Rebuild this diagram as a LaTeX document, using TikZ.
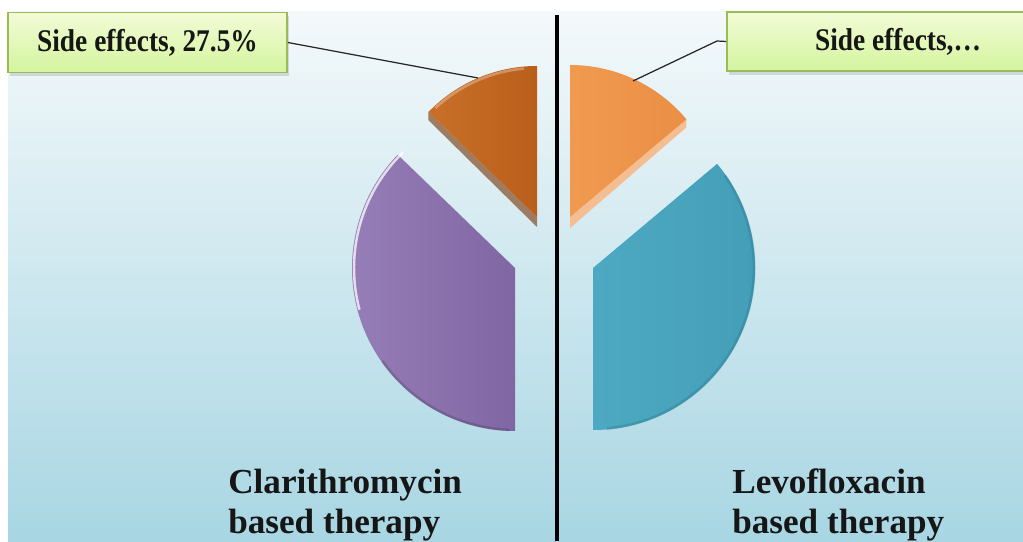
\documentclass[tikz,border=0pt]{standalone}
\usepackage{fontspec}
\setmainfont{Liberation Serif}
\usetikzlibrary{shadows}
\definecolor{bgtop}{HTML}{F4F9FB}
\definecolor{bgbot}{HTML}{A8D6E3}
\definecolor{boxtop}{HTML}{F2FBD6}
\definecolor{boxbot}{HTML}{D4F59E}
\definecolor{boxline}{HTML}{9BBB59}
\definecolor{loL}{HTML}{C86F29}
\definecolor{loR}{HTML}{B95F1B}
\definecolor{lobevel}{HTML}{9C7D63}
\definecolor{roL}{HTML}{F09A50}
\definecolor{roR}{HTML}{EA8F45}
\definecolor{robevel}{HTML}{F4BE92}
\definecolor{puL}{HTML}{9880B9}
\definecolor{puR}{HTML}{8066A3}
\definecolor{teL}{HTML}{4DA9C1}
\definecolor{teR}{HTML}{449EB7}
\definecolor{tedark}{HTML}{2F7E94}
\definecolor{txt}{HTML}{161616}
\tikzset{
  labelbox/.style={draw=boxline, line width=1pt, top color=boxtop, bottom color=boxbot,
    drop shadow={opacity=0.25, shadow xshift=1pt, shadow yshift=-2pt},
    inner sep=0pt, text=txt, font=\fontsize{15.6}{18}\selectfont\bfseries},
  leader/.style={draw=black!85, line width=0.7pt},
  bottomtext/.style={anchor=base west, inner sep=0pt, text=txt, font=\fontsize{20}{23}\selectfont\bfseries},
}
\begin{document}
\begin{tikzpicture}[x=0.02cm,y=0.02cm]
\clip (0,0) rectangle (1023,541);
\fill[white] (0,0) rectangle (1023,541);
\shade[top color=bgtop, bottom color=bgbot] (8,0) rectangle (1023,529);

% divider
\draw[line width=2.2pt, black] (557,526) -- (557,0);

% left pie
\coordinate (lo) at (537,324);
\coordinate (pu) at (515,273);
\fill[lobevel] (lo) -- ([shift={(136:151)}]lo) -- ++(0,-8) -- ([shift={(0,-10)}]lo) -- cycle;
\shade[left color=loL, right color=loR] (lo) -- ([shift={(136:151)}]lo) arc[start angle=136, end angle=90, radius=151] -- cycle;
\draw[white, opacity=0.3, line width=1.5pt] ([shift={(133:149)}]lo) arc[start angle=133, end angle=95, radius=149];
\shade[left color=puL, right color=puR] (pu) -- ([shift={(136:163)}]pu) arc[start angle=136, end angle=270, radius=163] -- cycle;
\draw[white, opacity=0.75, line width=1.4pt] ([shift={(134:161)}]pu) arc[start angle=134, end angle=195, radius=161];
\draw[black, opacity=0.15, line width=1.5pt] ([shift={(215:162)}]pu) arc[start angle=215, end angle=268, radius=162];

% right pie
\coordinate (ro) at (570,324);
\coordinate (te) at (593,273);
\fill[robevel] (ro) -- ([shift={(40:152)}]ro) -- ++(0,-8) -- ([shift={(0,-11)}]ro) -- cycle;
\shade[left color=roL, right color=roR] (ro) -- ([shift={(40:152)}]ro) arc[start angle=40, end angle=90, radius=152] -- cycle;
\shade[left color=teL, right color=teR] (te) -- ([shift={(-90:162)}]te) arc[start angle=-90, end angle=40, radius=162] -- cycle;
\draw[tedark, opacity=0.4, line width=1.6pt] ([shift={(-85:161)}]te) arc[start angle=-85, end angle=35, radius=161];

% labels
\node[labelbox, minimum width=5.58cm, minimum height=1.2cm] (lbox) at (147.5,498.5)
  {\scalebox{1}[1.15]{Side effects, 27.5\%}};
\node[labelbox, minimum width=6.84cm, minimum height=1.18cm] (rbox) at (898,499.5)
  {\scalebox{1}[1.15]{Side effects,…}};
\coordinate (lend) at (478,463);
\coordinate (rbend) at (717,500);
\coordinate (rend) at (633,460);
\draw[leader] (lbox.east) -- (lend);
\draw[leader] (rbox.west) -- (rbend) -- (rend);

% bottom texts
\node[bottomtext] (cla1) at (228,48) {Clarithromycin};
\node[bottomtext] (cla2) at (228,8) {based therapy};
\node[bottomtext] (lev1) at (732,48) {Levofloxacin};
\node[bottomtext] (lev2) at (732,8) {based therapy};
\end{tikzpicture}
\end{document}
